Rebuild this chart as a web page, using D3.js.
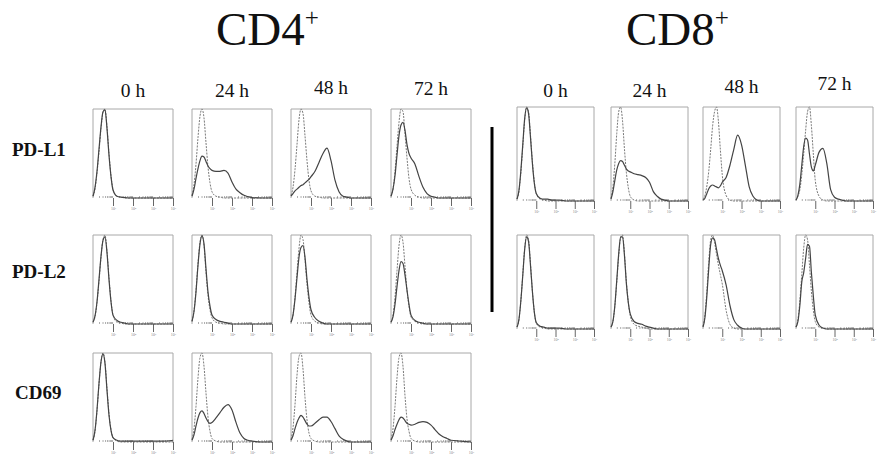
<!DOCTYPE html>
<html>
<head>
<meta charset="utf-8">
<script src="https://cdn.jsdelivr.net/npm/d3@7"></script>
<style>
  body { margin: 0; background: #fff; }
  svg { display: block; font-family: "Liberation Serif", "DejaVu Serif", serif; }
</style>
</head>
<body>
<svg class="fig" width="877" height="455"></svg>
<script>
// time points and markers
const times = ['0 h', '24 h', '48 h', '72 h'];
const cd4Markers = ['PD-L1', 'PD-L2', 'CD69'];
const majorTicks = [1, 2, 3, 4];
const tickLabels = ['10\u00b9', '10\u00b2', '10\u00b3', '10\u2074'];

// fluorescence channel (log decades) where each histogram height was read
const bins = [0, 0.1, 0.2, 0.3, 0.4, 0.5, 0.6, 0.7, 0.8, 0.9, 1.0, 1.2, 1.4, 1.6, 1.8, 2.0, 2.2, 2.4, 2.6, 2.8, 3.0, 3.5, 4.0];

// CD4+ PD-L1 (one list per time point), heights as fraction of the box
const cd4Pdl1Ctrl = [
  [0.02, 0.1, 0.28, 0.52, 0.78, 0.96, 1.0, 0.8, 0.5, 0.25, 0.1, 0.02, 0.01, 0, 0, 0, 0, 0, 0, 0, 0, 0, 0],
  [0.03, 0.15, 0.38, 0.68, 0.92, 1.0, 0.9, 0.62, 0.35, 0.17, 0.07, 0.02, 0.01, 0, 0, 0, 0, 0, 0, 0, 0, 0, 0],
  [0.03, 0.12, 0.32, 0.6, 0.88, 1.0, 0.95, 0.7, 0.42, 0.2, 0.08, 0.02, 0.01, 0, 0, 0, 0, 0, 0, 0, 0, 0, 0],
  [0.02, 0.1, 0.3, 0.58, 0.85, 1.0, 0.97, 0.72, 0.45, 0.22, 0.1, 0.03, 0.01, 0, 0, 0, 0, 0, 0, 0, 0, 0, 0]
];
const cd4Pdl1Stain = [
  [0.02, 0.12, 0.3, 0.55, 0.8, 0.97, 0.99, 0.78, 0.48, 0.24, 0.09, 0.02, 0.01, 0.005, 0, 0, 0, 0, 0, 0, 0, 0, 0],
  [0.02, 0.1, 0.22, 0.33, 0.42, 0.47, 0.46, 0.41, 0.36, 0.33, 0.31, 0.3, 0.3, 0.31, 0.28, 0.18, 0.1, 0.06, 0.03, 0.015, 0.005, 0, 0],
  [0.02, 0.05, 0.08, 0.1, 0.12, 0.14, 0.15, 0.17, 0.19, 0.21, 0.24, 0.3, 0.4, 0.5, 0.56, 0.42, 0.2, 0.07, 0.02, 0.01, 0, 0, 0],
  [0.02, 0.1, 0.25, 0.48, 0.7, 0.82, 0.85, 0.76, 0.6, 0.5, 0.45, 0.38, 0.24, 0.12, 0.05, 0.02, 0.01, 0, 0, 0, 0, 0, 0]
];

// CD4+ PD-L2
const cd4Pdl2Ctrl = [
  [0.02, 0.08, 0.24, 0.48, 0.75, 0.95, 1.0, 0.82, 0.52, 0.26, 0.1, 0.02, 0.01, 0, 0, 0, 0, 0, 0, 0, 0, 0, 0],
  [0.03, 0.15, 0.38, 0.68, 0.92, 1.0, 0.88, 0.58, 0.32, 0.16, 0.07, 0.02, 0.01, 0, 0, 0, 0, 0, 0, 0, 0, 0, 0],
  [0.02, 0.1, 0.3, 0.58, 0.85, 1.0, 0.95, 0.72, 0.45, 0.24, 0.1, 0.03, 0.01, 0, 0, 0, 0, 0, 0, 0, 0, 0, 0],
  [0.02, 0.1, 0.3, 0.6, 0.88, 1.0, 0.92, 0.65, 0.38, 0.2, 0.08, 0.03, 0.01, 0, 0, 0, 0, 0, 0, 0, 0, 0, 0]
];
const cd4Pdl2Stain = [
  [0.02, 0.09, 0.25, 0.5, 0.76, 0.94, 0.98, 0.8, 0.5, 0.25, 0.1, 0.04, 0.02, 0.01, 0, 0, 0, 0, 0, 0, 0, 0, 0],
  [0.03, 0.14, 0.36, 0.66, 0.9, 0.99, 0.9, 0.62, 0.36, 0.2, 0.1, 0.05, 0.03, 0.02, 0.01, 0, 0, 0, 0, 0, 0, 0, 0],
  [0.02, 0.1, 0.28, 0.52, 0.75, 0.86, 0.88, 0.75, 0.5, 0.3, 0.16, 0.07, 0.03, 0.01, 0, 0, 0, 0, 0, 0, 0, 0, 0],
  [0.02, 0.08, 0.22, 0.42, 0.6, 0.7, 0.68, 0.55, 0.38, 0.22, 0.1, 0.04, 0.02, 0.01, 0, 0, 0, 0, 0, 0, 0, 0, 0]
];

// CD4+ CD69
const cd4Cd69Ctrl = [
  [0.02, 0.12, 0.35, 0.65, 0.9, 1.0, 0.9, 0.6, 0.32, 0.14, 0.05, 0.01, 0, 0, 0, 0, 0, 0, 0, 0, 0, 0, 0],
  [0.03, 0.15, 0.4, 0.72, 0.95, 1.0, 0.85, 0.55, 0.28, 0.12, 0.04, 0.01, 0, 0, 0, 0, 0, 0, 0, 0, 0, 0, 0],
  [0.03, 0.16, 0.42, 0.75, 0.96, 1.0, 0.82, 0.5, 0.25, 0.1, 0.04, 0.01, 0, 0, 0, 0, 0, 0, 0, 0, 0, 0, 0],
  [0.03, 0.15, 0.4, 0.72, 0.95, 1.0, 0.85, 0.52, 0.26, 0.12, 0.04, 0.01, 0, 0, 0, 0, 0, 0, 0, 0, 0, 0, 0]
];
const cd4Cd69Stain = [
  [0.02, 0.13, 0.36, 0.66, 0.9, 0.99, 0.88, 0.58, 0.3, 0.13, 0.05, 0.02, 0.01, 0.01, 0.01, 0.01, 0.01, 0.01, 0.01, 0.01, 0.01, 0.01, 0.02],
  [0.02, 0.08, 0.18, 0.27, 0.33, 0.35, 0.32, 0.27, 0.23, 0.21, 0.22, 0.27, 0.33, 0.39, 0.42, 0.36, 0.22, 0.1, 0.04, 0.02, 0.01, 0, 0],
  [0.02, 0.07, 0.15, 0.22, 0.27, 0.3, 0.28, 0.24, 0.2, 0.18, 0.18, 0.21, 0.25, 0.28, 0.28, 0.23, 0.15, 0.07, 0.03, 0.01, 0, 0, 0],
  [0.02, 0.07, 0.14, 0.2, 0.25, 0.28, 0.27, 0.24, 0.21, 0.2, 0.19, 0.2, 0.22, 0.23, 0.22, 0.19, 0.14, 0.09, 0.06, 0.04, 0.02, 0.01, 0]
];

// CD8+ PD-L1
const cd8Pdl1Ctrl = [
  [0.02, 0.1, 0.3, 0.58, 0.86, 1.0, 0.95, 0.7, 0.42, 0.2, 0.08, 0.02, 0.01, 0, 0, 0, 0, 0, 0, 0, 0, 0, 0],
  [0.03, 0.15, 0.4, 0.72, 0.95, 1.0, 0.85, 0.55, 0.3, 0.14, 0.05, 0.01, 0, 0, 0, 0, 0, 0, 0, 0, 0, 0, 0],
  [0.02, 0.06, 0.16, 0.32, 0.55, 0.8, 0.95, 1.0, 0.85, 0.55, 0.28, 0.06, 0.01, 0, 0, 0, 0, 0, 0, 0, 0, 0, 0],
  [0.01, 0.05, 0.12, 0.28, 0.5, 0.75, 0.95, 1.0, 0.8, 0.5, 0.22, 0.05, 0.01, 0, 0, 0, 0, 0, 0, 0, 0, 0, 0]
];
const cd8Pdl1Stain = [
  [0.02, 0.11, 0.32, 0.6, 0.88, 0.99, 0.93, 0.68, 0.4, 0.19, 0.08, 0.03, 0.02, 0.02, 0.01, 0.01, 0.01, 0.005, 0, 0, 0, 0, 0],
  [0.02, 0.1, 0.22, 0.33, 0.4, 0.43, 0.42, 0.38, 0.34, 0.32, 0.31, 0.29, 0.28, 0.27, 0.25, 0.2, 0.1, 0.05, 0.02, 0.01, 0, 0, 0],
  [0.01, 0.03, 0.08, 0.13, 0.16, 0.17, 0.16, 0.15, 0.14, 0.16, 0.2, 0.25, 0.38, 0.55, 0.7, 0.6, 0.38, 0.15, 0.05, 0.01, 0, 0, 0],
  [0.01, 0.06, 0.18, 0.38, 0.58, 0.67, 0.65, 0.5, 0.36, 0.32, 0.38, 0.52, 0.56, 0.4, 0.12, 0.04, 0.02, 0.01, 0, 0, 0, 0, 0]
];

// CD8+ PD-L2
const cd8Pdl2Ctrl = [
  [0.02, 0.1, 0.3, 0.58, 0.86, 1.0, 0.95, 0.7, 0.4, 0.18, 0.06, 0.02, 0.01, 0, 0, 0, 0, 0, 0, 0, 0, 0, 0],
  [0.02, 0.08, 0.24, 0.5, 0.78, 0.97, 1.0, 0.8, 0.5, 0.28, 0.14, 0.05, 0.03, 0.02, 0.01, 0, 0, 0, 0, 0, 0, 0, 0],
  [0.03, 0.15, 0.4, 0.72, 0.95, 1.0, 0.92, 0.8, 0.68, 0.58, 0.48, 0.2, 0.05, 0.01, 0, 0, 0, 0, 0, 0, 0, 0, 0],
  [0.02, 0.1, 0.3, 0.58, 0.86, 1.0, 0.95, 0.68, 0.4, 0.2, 0.08, 0.02, 0.01, 0, 0, 0, 0, 0, 0, 0, 0, 0, 0]
];
const cd8Pdl2Stain = [
  [0.02, 0.1, 0.3, 0.57, 0.85, 0.98, 0.93, 0.68, 0.4, 0.18, 0.07, 0.03, 0.02, 0.01, 0.01, 0.01, 0.01, 0.005, 0, 0, 0, 0, 0],
  [0.02, 0.08, 0.25, 0.52, 0.8, 0.98, 0.98, 0.78, 0.48, 0.28, 0.16, 0.08, 0.06, 0.05, 0.03, 0.02, 0.01, 0, 0, 0, 0, 0, 0],
  [0.02, 0.12, 0.35, 0.65, 0.9, 0.97, 0.95, 0.85, 0.75, 0.68, 0.62, 0.47, 0.25, 0.1, 0.04, 0.01, 0, 0, 0, 0, 0, 0, 0],
  [0.02, 0.08, 0.25, 0.5, 0.6, 0.75, 0.9, 0.88, 0.6, 0.35, 0.15, 0.04, 0.01, 0, 0, 0, 0, 0, 0, 0, 0, 0, 0]
];

const svg = d3.select('.fig');

// panel grid (pixels)
const cd4Cols = [93, 192, 291, 391];
const cd4Rows = [109, 235, 353];
const cd8Cols = [517, 611, 703, 796];
const cd8Rows = [107, 235];
const cd4Size = { w: 80, h: 89 };
const cd8Size = { w: 77, h: 94 };

const minorTicks = [];
d3.range(0, 4).forEach(d => d3.range(2, 10).forEach(k => minorTicks.push(d + Math.log10(k))));

function drawPanel(x0, y0, size, ctrl, stain) {
    const xScale = d3.scaleLinear().domain([0, 4]).range([0, size.w]);
    const yScale = d3.scaleLinear().domain([0, 1]).range([size.h, 0]);

    const g = svg.append('g').attr('transform', `translate(${x0},${y0})`);

    // frame: left, top, right
    g.append('path')
        .attr('d', `M0,${size.h}V0H${size.w}V${size.h}`)
        .attr('fill', 'none')
        .attr('stroke', '#a8a8a8')
        .attr('stroke-width', 1);

    // minor ticks along the baseline
    g.append('g')
        .attr('transform', `translate(0,${size.h})`)
        .call(d3.axisBottom(xScale).tickValues(minorTicks).tickSize(-2).tickFormat(''))
        .call(a => a.select('.domain').remove())
        .selectAll('line').attr('stroke', '#999').attr('stroke-width', 0.8);

    // major decade ticks below the baseline
    g.append('g')
        .attr('transform', `translate(0,${size.h})`)
        .call(d3.axisBottom(xScale).tickValues(majorTicks).tickSize(8).tickPadding(1)
            .tickFormat((d, i) => tickLabels[i]))
        .call(a => a.select('.domain').remove())
        .call(a => a.selectAll('line').attr('stroke', '#666').attr('stroke-width', 1))
        .call(a => a.selectAll('text').attr('font-size', 4).attr('fill', '#888')
            .attr('font-family', 'Liberation Serif'));

    const line = d3.line()
        .x((d, i) => xScale(bins[i]))
        .y(d => yScale(d))
        .curve(d3.curveMonotoneX);

    // isotype control: thin dotted
    g.append('path')
        .attr('d', line(ctrl))
        .attr('fill', 'none')
        .attr('stroke', '#7a7a7a')
        .attr('stroke-width', 1)
        .attr('stroke-dasharray', '2,1.2');

    // stained sample: solid
    g.append('path')
        .attr('d', line(stain))
        .attr('fill', 'none')
        .attr('stroke', '#444')
        .attr('stroke-width', 1.2);
}

const cd4Data = [[cd4Pdl1Ctrl, cd4Pdl1Stain], [cd4Pdl2Ctrl, cd4Pdl2Stain], [cd4Cd69Ctrl, cd4Cd69Stain]];
const cd8Data = [[cd8Pdl1Ctrl, cd8Pdl1Stain], [cd8Pdl2Ctrl, cd8Pdl2Stain]];

cd4Data.forEach((row, r) => row[0].forEach((c, t) =>
    drawPanel(cd4Cols[t], cd4Rows[r], cd4Size, c, row[1][t])));
cd8Data.forEach((row, r) => row[0].forEach((c, t) =>
    drawPanel(cd8Cols[t], cd8Rows[r], cd8Size, c, row[1][t])));

// group titles
function title(x, label) {
    const t = svg.append('text')
        .attr('x', x).attr('y', 45)
        .attr('font-size', 47)
        .attr('fill', '#111');
    t.append('tspan').text(label);
    t.append('tspan').text('+').attr('font-size', 25).attr('dy', -19);
}
title(216, 'CD4');
title(626, 'CD8');

// column headings
const cd4HeadY = [97, 97, 94, 95];
const cd8HeadY = [97, 97, 93, 90];
svg.append('g').selectAll('text')
    .data(times).enter().append('text')
    .attr('x', (d, i) => cd4Cols[i] + cd4Size.w / 2)
    .attr('y', (d, i) => cd4HeadY[i])
    .attr('text-anchor', 'middle')
    .attr('font-size', 19.5)
    .attr('fill', '#111')
    .text(d => d);
svg.append('g').selectAll('text')
    .data(times).enter().append('text')
    .attr('x', (d, i) => cd8Cols[i] + cd8Size.w / 2)
    .attr('y', (d, i) => cd8HeadY[i])
    .attr('text-anchor', 'middle')
    .attr('font-size', 19.5)
    .attr('fill', '#111')
    .text(d => d);

// row labels
const rowLabelY = [156, 278, 399];
svg.append('g').selectAll('text')
    .data(cd4Markers).enter().append('text')
    .attr('x', (d, i) => i === 2 ? 15 : 12)
    .attr('y', (d, i) => rowLabelY[i])
    .attr('font-size', 19)
    .attr('font-weight', 'bold')
    .attr('fill', '#111')
    .text(d => d);

// separator between CD4+ and CD8+
svg.append('line')
    .attr('x1', 492).attr('x2', 492)
    .attr('y1', 127).attr('y2', 312)
    .attr('stroke', '#000')
    .attr('stroke-width', 3);
</script>
</body>
</html>
